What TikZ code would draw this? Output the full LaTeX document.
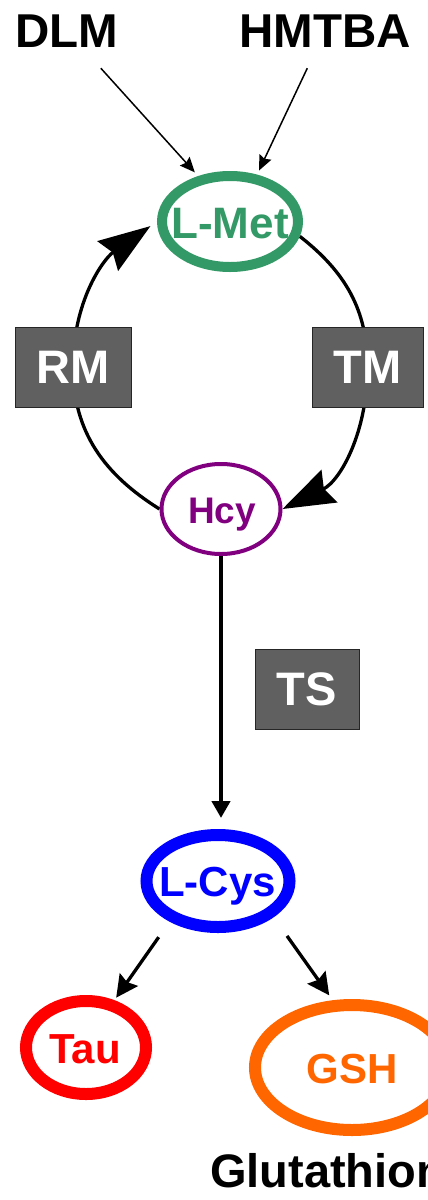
\documentclass[tikz,border=0pt]{standalone}
\usepackage{fontspec}
\setmainfont{Liberation Sans}
\usetikzlibrary{arrows.meta,backgrounds,shapes.geometric}
\definecolor{metgreen}{HTML}{339966}
\definecolor{hcypurple}{HTML}{800080}
\definecolor{cysblue}{HTML}{0000FF}
\definecolor{taured}{HTML}{FF0000}
\definecolor{gshorange}{HTML}{FF6600}
\definecolor{boxgray}{HTML}{606060}
\begin{document}
\begin{tikzpicture}[x=1pt,y=1pt,
  ell/.style={ellipse, inner sep=0pt, fill=white},
  lbl/.style={inner sep=0pt, anchor=base},
  head/.style={inner xsep=0pt, inner ysep=21pt, anchor=base, font=\bfseries\fontsize{47.5}{50}\selectfont},
  pbox/.style={rectangle, fill=boxgray, draw=black!85, line width=1pt, text=white, inner sep=0pt,
    font=\bfseries\fontsize{47}{50}\selectfont, text height=33.7pt, text depth=0pt},
  cyc/.style={line width=3.3pt, -{Stealth[length=52pt,width=36pt,inset=6pt]}},
  feed/.style={line width=1.5pt, -{Stealth[length=15pt,width=13pt,inset=2pt]}},
  down/.style={line width=4.5pt, -{Triangle[length=17pt,width=18pt]}},
  branch/.style={line width=3.3pt, -{Stealth[length=22pt,width=22pt,inset=3pt]}}]
\useasboundingbox (0,0) rectangle (428,-1200);
\clip (0,0) rectangle (428,-1200);

% headings
\node[head] (dlm) at (67,-47) {DLM};
\node[head] (hmtba) at (325,-47) {HMTBA};

% metabolite ellipses
\node[ell, draw=metgreen, line width=10pt, minimum width=136pt, minimum height=91pt] (met) at (230,-221.5) {};
\node[lbl, text=metgreen, font=\bfseries\fontsize{44}{44}\selectfont] (metl) at (230,-238.3) {L-Met};

\node[ell, draw=hcypurple, line width=4pt, minimum width=119pt, minimum height=90pt] (hcy) at (221,-509) {};
\node[lbl, text=hcypurple, font=\bfseries\fontsize{37}{37}\selectfont] (hcyl) at (222,-523.2) {Hcy};

\node[ell, draw=cysblue, line width=12pt, minimum width=143pt, minimum height=92pt] (lcys) at (218,-881) {};
\node[lbl, text=cysblue, font=\bfseries\fontsize{42}{42}\selectfont] (lcysl) at (217.5,-896.7) {L-Cys};

\node[ell, draw=taured, line width=12pt, minimum width=120pt, minimum height=93pt] (tau) at (86,-1047.5) {};
\node[lbl, text=taured, font=\bfseries\fontsize{42}{42}\selectfont] (taul) at (85,-1063) {Tau};

\node[ell, draw=gshorange, line width=12pt, minimum width=194pt, minimum height=125pt] (gsh) at (352,-1067.5) {};
\node[lbl, text=gshorange, font=\bfseries\fontsize{42}{42}\selectfont] (gshl) at (352,-1083) {GSH};

\node[lbl, anchor=base west, font=\bfseries\fontsize{47}{47}\selectfont] (glut) at (210,-1187) {Glutathione};

% enzyme boxes
\node[pbox, minimum width=116pt, minimum height=80pt] (rm) at (73,-367) {RM};
\node[pbox, minimum width=111pt, minimum height=80pt] (tm) at (367.5,-367) {TM};
\node[pbox, minimum width=104pt, minimum height=80pt] (ts) at (307,-689) {TS};

% methionine cycle
\begin{pgfonlayer}{background}
\draw[cyc, shorten >=8pt] (hcy.west) to[out=148,in=270] (rm.center) to[out=90,in=215] (met.west);
\draw[cyc] (met.-12) to[out=-38,in=90] (tm.center) to[out=270,in=26] (hcy.east);
\end{pgfonlayer}

% feeds
\draw[feed, shorten >=5pt] (dlm) -- (met.125);
\draw[feed, shorten >=4.5pt] (hmtba) -- (met.60);

% transsulfuration
\draw[down, shorten >=11pt] (hcy.south) -- (hcy.south |- lcys.north);

% branches
\draw[branch, shorten <=19pt, shorten >=3pt] (lcys.220) -- (tau.59);
\draw[branch, shorten <=23pt, shorten >=6pt] (lcys.-33) -- (gsh.106);
\end{tikzpicture}
\end{document}
